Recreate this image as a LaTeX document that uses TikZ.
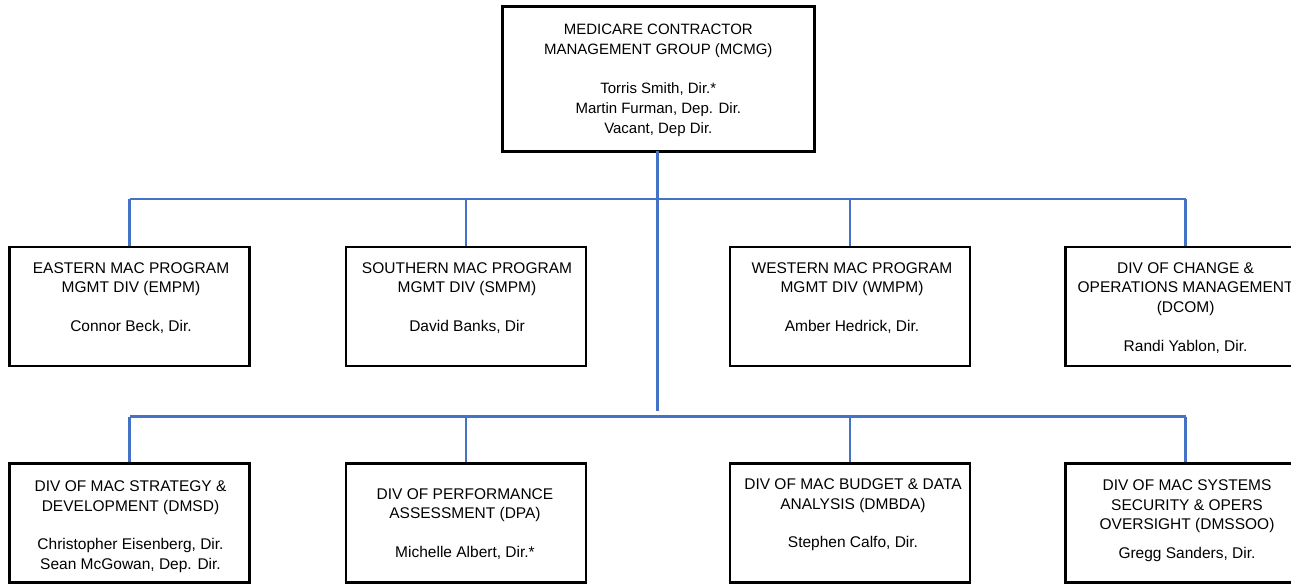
\documentclass[tikz,border=0pt]{standalone}
\usepackage{fontspec}
\setmainfont{Liberation Sans}
\definecolor{connblue}{HTML}{4472C4}
\tikzset{
  orgbox/.style={draw=black, line width=2.7pt, inner sep=0pt, outer sep=0pt,
    minimum width=240pt, minimum height=119pt},
  topbox/.style={orgbox, minimum width=312pt, minimum height=144.6pt},
  lbl/.style={anchor=north, align=center, inner sep=0pt,
    font=\fontsize{15.5}{19.4}\selectfont},
  toplbl/.style={lbl, font=\fontsize{15}{19.8}\selectfont},
  link/.style={draw=connblue, line width=2.6pt},
}
\begin{document}
\begin{tikzpicture}[x=1pt, y=-1pt]
\useasboundingbox (0,0) rectangle (1291,584);
\clip (0,0) rectangle (1291,584);
\fill[white] (0,0) rectangle (1291,584);

% boxes
\node[topbox] (mcmg) at (658.3,79) {};
\node[orgbox] (empm) at (129.7,306.5) {};
\node[orgbox] (smpm) at (465.9,306.5) {};
\node[orgbox] (wmpm) at (850,306.5) {};
\node[orgbox] (dcom) at (1185.6,306.5) {};
\node[orgbox] (dmsd) at (129.7,523.2) {};
\node[orgbox] (dpa) at (465.9,523.2) {};
\node[orgbox] (dmbda) at (850,523.2) {};
\node[orgbox] (dmssoo) at (1185.6,523.2) {};

% texts
\node[toplbl] (mcmgT) at (658.3,20.5) {\strut MEDICARE CONTRACTOR\\MANAGEMENT GROUP (MCMG)\\[19.8pt]Torris Smith, Dir.*\\Martin Furman, Dep. Dir.\\Vacant, Dep Dir.};
\node[lbl] (empmT) at (131,259.7) {\strut EASTERN MAC PROGRAM\\MGMT DIV (EMPM)\\[19.4pt]Connor Beck, Dir.};
\node[lbl] (smpmT) at (467,259.7) {\strut SOUTHERN MAC PROGRAM\\MGMT DIV (SMPM)\\[19.4pt]David Banks, Dir};
\node[lbl] (wmpmT) at (852,259.7) {\strut WESTERN MAC PROGRAM\\MGMT DIV (WMPM)\\[19.4pt]Amber Hedrick, Dir.};
\node[lbl] (dcomT) at (1185.6,259.7) {\strut DIV OF CHANGE \&\\OPERATIONS MANAGEMENT\\(DCOM)\\[19.4pt]Randi Yablon, Dir.};
\node[lbl] (dmsdT) at (130.5,478) {\strut DIV OF MAC STRATEGY \&\\DEVELOPMENT (DMSD)\\[19.4pt]Christopher Eisenberg, Dir.\\Sean McGowan, Dep. Dir.};
\node[lbl] (dpaT) at (465,485.3) {\strut DIV OF PERFORMANCE\\ASSESSMENT (DPA)\\[19.4pt]Michelle Albert, Dir.*};
\node[lbl] (dmbdaT) at (853,476) {\strut DIV OF MAC BUDGET \& DATA\\ANALYSIS (DMBDA)\\[19.4pt]Stephen Calfo, Dir.};
\node[lbl] (dmssooT) at (1187,477) {\strut DIV OF MAC SYSTEMS\\SECURITY \& OPERS\\OVERSIGHT (DMSSOO)\\[9.7pt]Gregg Sanders, Dir.};

% connectors
\coordinate (busA) at (657.7,199);
\coordinate (busB) at (657.7,416.7);
\coordinate (trunkend) at (657.7,411);
\draw[link] (mcmg.south -| busA) -- (trunkend);
\draw[link] (empm.north |- busA) -- (dcom.north |- busA);
\draw[link] (empm.north |- busB) -- (dmssoo.north |- busB);
\foreach \n in {empm,smpm,wmpm,dcom}
  \draw[link, shorten >=1.3pt] (\n.north |- busA) -- (\n.north);
\foreach \n in {dmsd,dpa,dmbda,dmssoo}
  \draw[link, shorten >=1.3pt] (\n.north |- busB) -- (\n.north);
\end{tikzpicture}
\end{document}
